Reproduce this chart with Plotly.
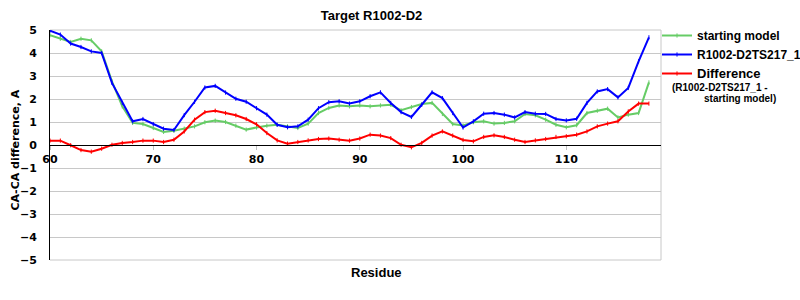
import plotly.graph_objects as go

residues = list(range(60, 119))

starting_model = [4.77, 4.62, 4.48, 4.62, 4.55, 4.07, 2.77, 1.68, 0.96, 0.91,
                  0.74, 0.57, 0.62, 0.71, 0.81, 0.99, 1.06, 1.00, 0.84, 0.67,
                  0.76, 0.84, 0.88, 0.81, 0.74, 0.93, 1.39, 1.61, 1.72, 1.68,
                  1.72, 1.68, 1.72, 1.75, 1.51, 1.65, 1.78, 1.83, 1.35, 0.91,
                  0.85, 0.99, 1.03, 0.93, 0.96, 1.03, 1.35, 1.29, 1.10, 0.88,
                  0.77, 0.86, 1.39, 1.49, 1.58, 1.20, 1.32, 1.39, 2.72]

model_ts217 = [4.97, 4.80, 4.41, 4.26, 4.07, 4.00, 2.70, 1.83, 1.03, 1.13,
               0.91, 0.71, 0.65, 1.30, 1.88, 2.50, 2.57, 2.28, 2.01, 1.88,
               1.60, 1.32, 0.88, 0.77, 0.81, 1.10, 1.60, 1.86, 1.90, 1.80,
               1.90, 2.12, 2.29, 1.83, 1.43, 1.22, 1.75, 2.29, 2.04, 1.39,
               0.76, 1.03, 1.36, 1.39, 1.32, 1.20, 1.43, 1.36, 1.35, 1.13,
               1.07, 1.14, 1.83, 2.33, 2.43, 2.07, 2.48, 3.64, 4.68]

difference = [0.19, 0.19, -0.01, -0.22, -0.29, -0.16, 0.01, 0.09, 0.13, 0.19,
              0.19, 0.13, 0.23, 0.59, 1.10, 1.43, 1.49, 1.39, 1.29, 1.13,
              0.90, 0.52, 0.20, 0.06, 0.13, 0.20, 0.26, 0.28, 0.23, 0.19,
              0.28, 0.45, 0.41, 0.30, 0.01, -0.10, 0.09, 0.41, 0.59, 0.41,
              0.22, 0.16, 0.35, 0.42, 0.35, 0.23, 0.13, 0.20, 0.26, 0.35,
              0.38, 0.45, 0.59, 0.81, 0.93, 1.03, 1.46, 1.80, 1.80]

x_ticks = [60, 70, 80, 90, 100, 110]
y_ticks = [5, 4, 3, 2, 1, 0, -1, -2, -3, -4, -5]

GREEN = "#66cc66"
BLUE = "#0000ff"
RED = "#ff0000"
ARIAL = "Liberation Sans, Arial, sans-serif"
VERD = "DejaVu Sans, Verdana, sans-serif"

fig = go.Figure()
series = [
    ("starting model", starting_model, GREEN),
    ("R1002-D2TS217_1", model_ts217, BLUE),
    ("<span style='font-size:13px'>Difference</span>", difference, RED),
]
for name, vals, col in series:
    fig.add_trace(go.Scatter(
        x=residues, y=vals, name=name, mode="lines+markers",
        line=dict(color=col, width=2),
        marker=dict(symbol="line-ns-open", size=3, color=col,
                    line=dict(color=col, width=1)),
    ))

PL, PR, PT, PB = 50, 139, 30, 40
W, H = 800, 300
pw = W - PL - PR
ph = H - PT - PB

def px_x(px):
    return (px - PL) / pw

def px_y(py):
    return (H - PB - py) / ph

fig.update_layout(
    width=W, height=H,
    margin=dict(l=PL, r=PR, t=PT, b=PB, autoexpand=False),
    paper_bgcolor="white", plot_bgcolor="white",
    showlegend=True,
    title=dict(text="Target R1002-D2", x=px_x(371.5), xref="paper", xanchor="center",
               y=1 - 15 / H, yref="container", yanchor="middle",
               font=dict(family=ARIAL, size=13, color="black", weight="bold")),
    legend=dict(x=px_x(657), xanchor="left", y=px_y(21), yanchor="top",
                font=dict(family=ARIAL, size=12, color="black", weight="bold"),
                bgcolor="rgba(0,0,0,0)", itemwidth=30, tracegroupgap=0),
    xaxis=dict(range=[60, 119.17], tickvals=x_ticks, ticktext=[str(v) for v in x_ticks],
               showgrid=False, zeroline=False,
               anchor="free", position=0.5,
               showline=True, linecolor="black", linewidth=1,
               ticks="outside", ticklen=4, tickcolor="#c0c0c0",
               tickfont=dict(family=VERD, size=11, color="black", weight="bold")),
    yaxis=dict(range=[-5, 5], tickvals=y_ticks, ticktext=[("\u2212" + str(-v)) if v < 0 else str(v) for v in y_ticks],
               showgrid=True, gridcolor="#c8c8c8", gridwidth=1,
               zeroline=False, showline=True, linecolor="black", linewidth=1,
               ticks="", ticklabelstandoff=10,
               tickfont=dict(family=VERD, size=11, color="black", weight="bold")),
    shapes=[
        dict(type="line", xref="paper", yref="paper", x0=1, x1=1, y0=0, y1=1,
             line=dict(color="#c8c8c8", width=1), layer="below"),
        dict(type="line", xref="paper", yref="paper", x0=0, x1=1, y0=0, y1=0,
             line=dict(color="#c8c8c8", width=1), layer="below"),
        dict(type="line", xref="paper", yref="paper", x0=0, x1=1, y0=1, y1=1,
             line=dict(color="#c8c8c8", width=1), layer="below"),
    ],
    annotations=[
        dict(text="CA-CA difference, A", textangle=-90, xref="paper", yref="paper",
             x=px_x(15), y=px_y(150.5), xanchor="center", yanchor="middle", showarrow=False,
             font=dict(family=VERD, size=11, color="black", weight="bold")),
        dict(text="Residue", xref="paper", yref="paper",
             x=px_x(376), y=px_y(272), xanchor="center", yanchor="middle", showarrow=False,
             font=dict(family=ARIAL, size=13, color="black", weight="bold")),
        dict(text="(R1002-D2TS217_1 -", xref="paper", yref="paper",
             x=px_x(670), y=px_y(87.5), xanchor="left", yanchor="middle", showarrow=False,
             font=dict(family=ARIAL, size=10, color="black", weight="bold")),
        dict(text="starting model)", xref="paper", yref="paper",
             x=px_x(702), y=px_y(98.5), xanchor="left", yanchor="middle", showarrow=False,
             font=dict(family=ARIAL, size=10, color="black", weight="bold")),
    ],
)

fig.write_html("out.html")
